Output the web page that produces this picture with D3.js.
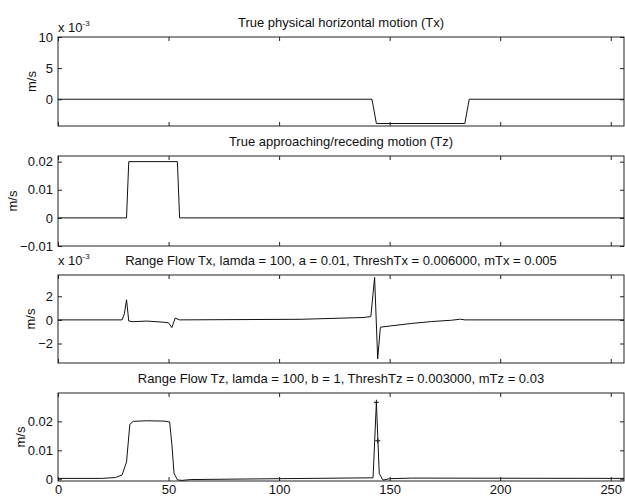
<!DOCTYPE html>
<html>
<head>
<meta charset="utf-8">
<script src="https://cdn.jsdelivr.net/npm/d3@7"></script>
<style>
  body { margin: 0; background: #fff; }
  svg { display: block; }
  text { font-family: "Liberation Sans", Arial, sans-serif; fill: #111; }
  .domain { display: none; }
  .tick line { stroke: #222; }
</style>
</head>
<body>
<div id="chart"></div>
<script>
// x positions shared by every panel (sample index)
var xTicks = [0, 50, 100, 150, 200, 250];

// panel 1 : true Tx
var txTrueX = [0, 142, 144, 184, 186, 256];
var txTrueY = [0, 0, -0.0039, -0.0039, 0, 0];

// panel 2 : true Tz
var tzTrueX = [0, 31, 32, 54, 55, 256];
var tzTrueY = [0, 0, 0.02, 0.02, 0, 0];

// panel 3 : range flow Tx (values in m/s)
var rfTxX = [0, 29, 30, 31, 32, 34, 40, 48, 50, 51.5, 53, 55, 110, 138, 141.5, 143.2, 144.6, 145.8, 150, 160, 169, 178, 182, 184, 256];
var rfTxY = [0, 0, 0.0005, 0.0017, -0.0001, -0.00015, -0.0001, -0.0002, -0.00025, -0.00065, 0.00015, 0, 0.00005, 0.0002, 0.00028, 0.0036, -0.0033, -0.00062, -0.00052, -0.0003, -0.00014, -0.00003, 0.00006, 0, 0];

// panel 4 : range flow Tz (values in m/s)
var rfTzX = [0, 20, 26, 29, 31, 32.5, 34, 40, 48, 50.5, 51.5, 52.5, 54, 56, 60, 100, 142.5, 144, 145.3, 147, 150, 160, 256];
var rfTzY = [0.0003, 0.0003, 0.0006, 0.0015, 0.006, 0.019, 0.02, 0.0202, 0.0201, 0.0198, 0.012, 0.002, -0.0002, -0.0004, -0.0001, 0.0002, 0.0005, 0.0267, 0.002, -0.0003, 0.0002, 0.0004, 0.0003];
var rfTzMarkX = [144, 144.6];
var rfTzMarkY = [0.0266, 0.0133];

var titles = [
	"True physical horizontal motion (Tx)",
	"True approaching/receding motion (Tz)",
	"Range Flow Tx, lamda = 100, a = 0.01, ThreshTx = 0.006000, mTx = 0.005",
	"Range Flow Tz, lamda = 100, b = 1, ThreshTz = 0.003000, mTz = 0.03"
];

var width = 625, height = 497;
var left = 58, right = 624;
var fs = 13;

var panels = [
	{ top: 37, bottom: 126, domain: [-0.0043, 0.010], ticks: [0, 0.005, 0.010], fmt: d => d3.format("d")(d * 1000), exp: true, xs: txTrueX, ys: txTrueY },
	{ top: 156, bottom: 246, domain: [-0.01, 0.022], ticks: [-0.01, 0, 0.01, 0.02], fmt: d => d === 0 ? "0" : d3.format(".2f")(d), exp: false, xs: tzTrueX, ys: tzTrueY },
	{ top: 275, bottom: 363, domain: [-0.00365, 0.0038], ticks: [-0.002, 0, 0.002], fmt: d => d3.format("d")(Math.round(d * 1000)), exp: true, xs: rfTxX, ys: rfTxY },
	{ top: 393, bottom: 481, domain: [-0.0006, 0.0298], ticks: [0, 0.01, 0.02], fmt: d => d === 0 ? "0" : d3.format(".2f")(d), exp: false, xs: rfTzX, ys: rfTzY, mx: rfTzMarkX, my: rfTzMarkY }
];

var svg = d3.select("#chart").append("svg")
	.attr("width", width)
	.attr("height", height);

var x = d3.scaleLinear().domain([0, 256]).range([left, right]);

panels.forEach(function(p, i) {
	var y = d3.scaleLinear().domain(p.domain).range([p.bottom, p.top]);
	var g = svg.append("g");

	// clip so spikes stay inside the box
	g.append("clipPath").attr("id", "clip" + i)
		.append("rect")
		.attr("x", left).attr("y", p.top)
		.attr("width", right - left).attr("height", p.bottom - p.top);

	// box
	g.append("rect")
		.attr("x", left).attr("y", p.top)
		.attr("width", right - left).attr("height", p.bottom - p.top)
		.attr("fill", "none")
		.attr("stroke", "#222")
		.attr("stroke-width", 1);

	// y axis left with labels
	var yl = g.append("g")
		.attr("transform", "translate(" + left + ",0)")
		.call(d3.axisLeft(y).tickValues(p.ticks).tickSize(-4).tickPadding(5).tickFormat(p.fmt));
	yl.selectAll("text").attr("font-size", fs);

	// mirrored ticks on the right
	g.append("g")
		.attr("transform", "translate(" + right + ",0)")
		.call(d3.axisRight(y).tickValues(p.ticks).tickSize(-4).tickFormat(""));

	// x ticks top and bottom
	g.append("g")
		.attr("transform", "translate(0," + p.top + ")")
		.call(d3.axisTop(x).tickValues(xTicks).tickSize(-4).tickFormat(""));
	var xb = g.append("g")
		.attr("transform", "translate(0," + p.bottom + ")")
		.call(d3.axisBottom(x).tickValues(xTicks).tickSize(-4).tickPadding(4)
			.tickFormat(i === 3 ? d3.format("d") : ""));
	xb.selectAll("text").attr("font-size", fs);

	// y label placed left of the widest tick label
	var maxW = 0;
	yl.selectAll("text").each(function() { maxW = Math.max(maxW, this.getBBox().width); });
	var lx = left - 5 - maxW - 3;
	g.append("text")
		.attr("transform", "translate(" + lx + "," + ((p.top + p.bottom) / 2) + ") rotate(-90)")
		.attr("text-anchor", "middle")
		.attr("font-size", fs)
		.text("m/s");

	// title
	g.append("text")
		.attr("x", (left + right) / 2)
		.attr("y", p.top - 10)
		.attr("text-anchor", "middle")
		.attr("font-size", fs)
		.text(titles[i]);

	// x 10^-3 multiplier
	if (p.exp) {
		var ex = g.append("text")
			.attr("x", left)
			.attr("y", i === 0 ? p.top - 5 : p.top - 10)
			.attr("font-size", fs);
		ex.append("tspan").text("x 10");
		ex.append("tspan").attr("dy", -6).attr("font-size", 8).text("-3");
	}

	// data line
	var pts = p.xs.map(function(d, k) { return [d, p.ys[k]]; });
	g.append("path")
		.datum(pts)
		.attr("clip-path", "url(#clip" + i + ")")
		.attr("fill", "none")
		.attr("stroke", "#111")
		.attr("stroke-width", 1)
		.attr("d", d3.line().x(d => x(d[0])).y(d => y(d[1])));

	if (p.mx) {
		g.selectAll(".mark")
			.data(p.mx.map(function(d, k) { return [d, p.my[k]]; }))
			.join("path")
			.attr("class", "mark")
			.attr("transform", d => "translate(" + x(d[0]) + "," + y(d[1]) + ")")
			.attr("d", "M-2.5,0H2.5M0,-2.5V2.5")
			.attr("stroke", "#111")
			.attr("fill", "none");
	}
});
</script>
</body>
</html>
